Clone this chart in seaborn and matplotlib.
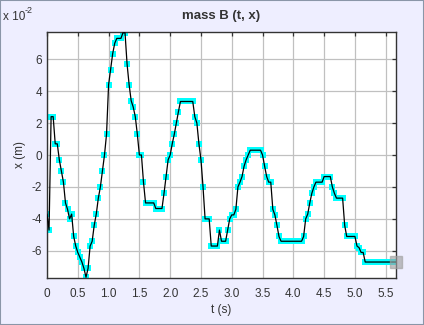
import numpy as np
import pandas as pd
import matplotlib
matplotlib.use("Agg")
import matplotlib.pyplot as plt
import seaborn as sns
from matplotlib.patches import Rectangle

# ---- data (x in units of 1e-2 m, sampled at 30 Hz) ----
dt = 1.0 / 30.0
x_vals = [
    -3.7, -4.7, 2.4, 2.4, 0.7, 0.7, -0.3, -1.0, -1.7, -3.0,
    -3.4, -4.0, -3.7, -5.1, -5.7, -6.1, -6.4, -6.7, -7.1, -7.65,
    -7.1, -5.7, -5.4, -4.4, -3.7, -2.7, -2.0, -1.0, 0.0, 1.3,
    4.4, 5.35, 6.35, 7.0, 7.3, 7.3, 7.3, 7.65, 7.65, 5.7,
    4.4, 3.4, 3.0, 2.4, 1.3, 0.0, 0.0, -1.7, -3.0, -3.0,
    -3.0, -3.0, -3.0, -3.35, -3.35, -3.35, -3.35, -2.4, -1.35, -0.3,
    0.0, 0.7, 1.3, 2.0, 2.7, 3.35, 3.35, 3.35, 3.35, 3.35,
    3.35, 3.35, 2.4, 2.0, 0.7, -0.3, -2.0, -4.0, -4.0, -4.0,
    -5.7, -5.7, -5.7, -5.7, -4.7, -5.4, -5.4, -5.4, -4.7, -4.0,
    -3.75, -3.75, -3.4, -2.0, -1.7, -1.35, -0.7, -0.3, 0.0, 0.3,
    0.3, 0.3, 0.3, 0.3, 0.3, 0.0, -0.7, -1.35, -1.7, -1.7,
    -3.4, -3.75, -4.4, -5.1, -5.4, -5.4, -5.4, -5.4, -5.4, -5.4,
    -5.4, -5.4, -5.4, -5.4, -5.4, -5.1, -4.0, -3.7, -3.0, -2.4,
    -2.0, -1.7, -1.7, -1.7, -1.7, -1.35, -1.35, -1.35, -1.35, -2.0,
    -2.4, -2.7, -2.7, -2.7, -2.7, -4.4, -5.1, -5.1, -5.1, -5.1,
    -5.1, -5.7, -5.8, -6.1, -6.1, -6.7, -6.7, -6.7, -6.7, -6.7,
    -6.7, -6.7, -6.7, -6.7, -6.7, -6.7, -6.7, -6.7, -6.7, -6.7,
    -6.7,
]
t_vals = np.arange(len(x_vals)) * dt

x_ticks = [0, 0.5, 1.0, 1.5, 2.0, 2.5, 3.0, 3.5, 4.0, 4.5, 5.0, 5.5]
x_tick_labels = ["0", "0.5", "1.0", "1.5", "2.0", "2.5", "3.0", "3.5", "4.0", "4.5", "5.0", "5.5"]
y_ticks = [-6, -4, -2, 0, 2, 4, 6]
y_tick_labels = ["-6", "-4", "-2", "0", "2", "4", "6"]

df = pd.DataFrame({"t": t_vals, "x": x_vals})

sns.set_style("white")
plt.rcParams["font.family"] = ["Liberation Sans", "DejaVu Sans"]

W, H = 424, 325
fig = plt.figure(figsize=(W / 100, H / 100), dpi=100, facecolor="#EEEEFF")
ax = fig.add_axes([47 / W, 1 - 278 / H, (396 - 47) / W, (278 - 32) / H])
ax.set_facecolor("white")

# grid
ax.set_axisbelow(True)
ax.grid(True, color="#C0C0C0", linewidth=0.9)

sns.scatterplot(data=df, x="t", y="x", ax=ax, marker="s", s=15, color="#00FFFF",
                linewidth=0, zorder=2, legend=False)
sns.lineplot(data=df, x="t", y="x", ax=ax, color="black", linewidth=0.9,
             zorder=3, legend=False, sort=False)

# current-position marker
ax.plot([t_vals[-1]], [x_vals[-1]], marker="s", markersize=8.5, color="#A0A0A0",
        alpha=0.65, linestyle="none", zorder=4, clip_on=False)

ax.set_xlim(0, t_vals[-1])
ax.set_ylim(-7.7, 7.7)
ax.set_xticks(x_ticks)
ax.set_xticklabels(x_tick_labels)
ax.set_yticks(y_ticks)
ax.set_yticklabels(y_tick_labels)

ax.tick_params(direction="in", length=3, width=0.9, color="#333333",
               top=True, right=True, labelsize=8.5, labelcolor="#333333")
ax.tick_params(axis="x", pad=7)
ax.tick_params(axis="y", pad=3.5)
for sp in ax.spines.values():
    sp.set_color("#333333")
    sp.set_linewidth(1.0)

ax.set_xlabel("t (s)", fontsize=8.5, color="#333333", labelpad=3)
ax.set_ylabel("x (m)", fontsize=8.5, color="#333333", labelpad=4)
ax.set_title("mass B (t, x)", fontsize=9.5, fontweight="bold", color="#333333", pad=9)

fig.text(3 / W, 1 - 20 / H, "x 10", fontsize=8.5, color="#333333", ha="left", va="baseline")
fig.text(25 / W, 1 - 13 / H, "-2", fontsize=6.5, color="#333333", ha="left", va="baseline")

fig.patches.append(Rectangle((0, 0), 1, 1, transform=fig.transFigure, fill=False,
                             edgecolor="#8A96A8", linewidth=1.5, zorder=10))

fig.savefig("out.png", dpi=100, facecolor=fig.get_facecolor())
